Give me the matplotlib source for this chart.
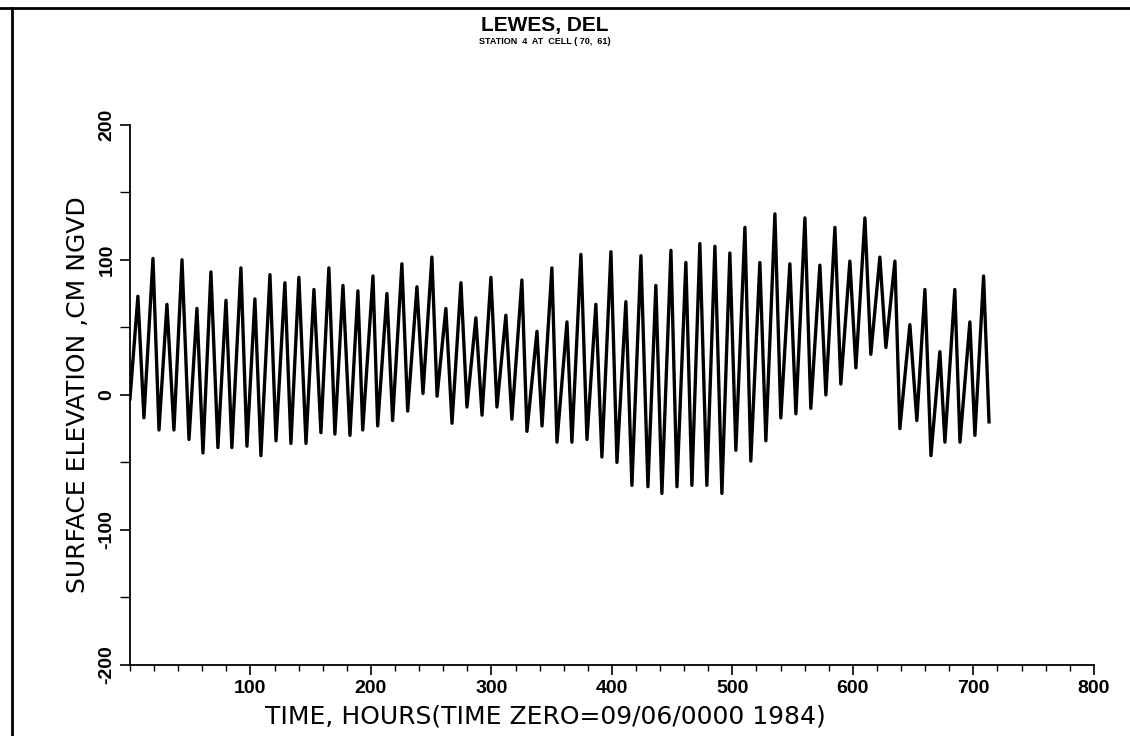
import numpy as np
import matplotlib
matplotlib.use("Agg")
import matplotlib.pyplot as plt
from matplotlib.ticker import MultipleLocator


# tide extremes (hours, cm NGVD)
high_hours = [6.6, 19.1, 30.7, 43.2, 55.6, 67.2, 79.7, 92.1, 103.7, 116.2,
              128.6, 140.2, 152.7, 165.1, 176.8, 189.2, 201.7, 213.3, 225.7, 238.2,
              250.6, 262.2, 274.7, 287.1, 299.6, 312.0, 325.3, 337.8, 350.2, 362.7,
              374.3, 386.7, 399.2, 411.6, 424.1, 436.5, 449.0, 461.4, 473.0, 485.5,
              497.9, 510.4, 522.8, 535.3, 547.7, 560.2, 572.6, 585.1, 597.5, 610.0,
              622.4, 634.9, 647.3, 659.8, 672.2, 684.6, 697.1, 708.5]
high_cm = [73, 101, 67, 100, 64, 91, 70, 94, 71, 89,
           83, 87, 78, 94, 81, 77, 88, 75, 97, 80,
           102, 64, 83, 57, 87, 59, 85, 47, 94, 54,
           104, 67, 106, 69, 103, 81, 107, 98, 112, 110,
           105, 124, 98, 134, 97, 131, 96, 124, 99, 131,
           102, 99, 52, 78, 32, 78, 54, 88]

low_hours = [0.0, 11.6, 24.1, 36.5, 49.0, 60.6, 73.0, 84.6, 97.1, 108.7,
             121.2, 133.6, 146.1, 158.5, 170.1, 182.6, 193.2, 205.6, 218.0, 230.5,
             243.2, 254.9, 267.3, 279.7, 292.2, 304.6, 317.0, 329.5, 342.0, 354.4,
             366.8, 379.3, 391.7, 404.2, 416.6, 429.9, 441.5, 454.0, 466.4, 478.8,
             491.3, 502.9, 515.3, 527.8, 540.2, 552.7, 565.1, 577.6, 590.0, 602.5,
             614.9, 627.4, 639.0, 653.1, 664.8, 676.4, 688.9, 701.3, 713.0]
low_cm = [-3, -17, -26, -26, -33, -43, -39, -39, -38, -45,
          -34, -36, -36, -28, -29, -30, -26, -23, -19, -12,
          1, -1, -21, -9, -15, -9, -18, -27, -23, -35,
          -35, -33, -46, -50, -67, -68, -73, -68, -67, -67,
          -73, -41, -49, -34, -17, -14, -10, 0, 8, 20,
          30, 35, -25, -19, -45, -35, -35, -30, -20]

# put highs and lows in time order
hours = np.array(low_hours + high_hours)
elev = np.array(low_cm + high_cm)
order = np.argsort(hours)
hours = hours[order]
elev = elev[order]

plt.rcParams["font.family"] = ["Liberation Sans", "DejaVu Sans"]

fig = plt.figure(figsize=(11.3, 7.36), dpi=100)
ax = fig.add_axes([0.115, 0.0965, 0.853, 0.734])

ax.plot(hours, elev, color="black", lw=2.4, solid_joinstyle="round")

ax.set_xlim(0, 800)
ax.set_ylim(-200, 200)
ax.spines["top"].set_visible(False)
ax.spines["right"].set_visible(False)
ax.spines["left"].set_linewidth(1.3)
ax.spines["bottom"].set_linewidth(1.3)

ax.xaxis.set_major_locator(MultipleLocator(100))
ax.xaxis.set_minor_locator(MultipleLocator(20))
ax.yaxis.set_major_locator(MultipleLocator(100))
ax.yaxis.set_minor_locator(MultipleLocator(50))
ax.tick_params(which="major", length=7, width=1.2, direction="out")
ax.tick_params(which="minor", length=4, width=1.0, direction="out")
ax.tick_params(axis="y", which="minor", length=7)

xt = [100, 200, 300, 400, 500, 600, 700, 800]
ax.set_xticks(xt)
ax.set_xticklabels([str(v) for v in xt], fontsize=14, fontweight="bold")
yt = [-200, -100, 0, 100, 200]
ax.set_yticks(yt)
ax.set_yticklabels([str(v) for v in yt], fontsize=14, fontweight="bold",
                   rotation=90, va="center")

ax.set_ylabel("SURFACE ELEVATION ,CM NGVD", fontsize=18, labelpad=6,
              family=["DejaVu Sans"])
fig.text(0.483, 0.026, "TIME, HOURS(TIME ZERO=09/06/0000 1984)",
         ha="center", va="center", fontsize=18, family=["DejaVu Sans"])

fig.text(0.482, 0.965, "LEWES, DEL", ha="center", va="center",
         fontsize=15, fontweight="bold")
fig.text(0.482, 0.944, "STATION  4  AT  CELL ( 70,  61)", ha="center",
         va="center", fontsize=6.5, fontweight="bold")

# page frame lines (top and left)
fig.add_artist(plt.Line2D([0.0, 1.0], [0.989, 0.989], color="black", lw=2))
fig.add_artist(plt.Line2D([0.011, 0.011], [0.0, 0.989], color="black", lw=2))

fig.savefig("out.png", dpi=100)
